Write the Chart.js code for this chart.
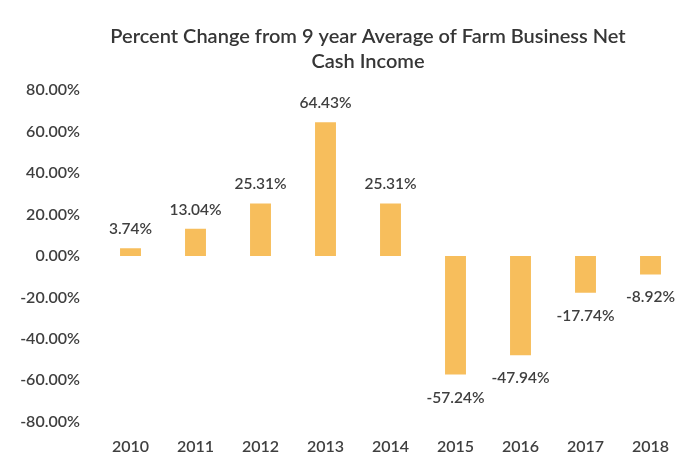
<!DOCTYPE html>
<html>
<head>
<meta charset="utf-8">
<script src="https://cdn.jsdelivr.net/npm/chart.js@4.4.1/dist/chart.umd.min.js"></script>
<style>
html,body{margin:0;padding:0;background:#fff;}
#wrap{width:691px;height:471px;position:relative;}
</style>
</head>
<body>
<div id="wrap"><canvas id="c"></canvas></div>
<script>
const categories = ['2010','2011','2012','2013','2014','2015','2016','2017','2018'];
const values = [3.74, 13.04, 25.31, 64.43, 25.31, -57.24, -47.94, -17.74, -8.92];
const yTicks = [80, 60, 40, 20, 0, -20, -40, -60, -80];
const titleLines = ['Percent Change from 9 year Average of Farm Business Net', 'Cash Income'];

const FONT = 'Lato, "Open Sans", sans-serif';
const TEXT = '#3f3f3f';

const titlePlugin = {
  id: 'customTitle',
  afterDraw(chart) {
    const ctx = chart.ctx;
    ctx.save();
    ctx.font = '600 20px ' + FONT;
    ctx.fillStyle = '#363636';
    ctx.textAlign = 'center';
    ctx.textBaseline = 'middle';
    ctx.fillText(titleLines[0], 368, 37);
    ctx.fillText(titleLines[1], 368, 62);
    ctx.restore();
  }
};

const labelPlugin = {
  id: 'valueLabels',
  afterDatasetsDraw(chart) {
    const ctx = chart.ctx;
    const meta = chart.getDatasetMeta(0);
    ctx.save();
    ctx.font = '600 15.5px ' + FONT;
    ctx.fillStyle = TEXT;
    ctx.textAlign = 'center';
    ctx.textBaseline = 'middle';
    meta.data.forEach((bar, i) => {
      const v = values[i];
      const y = v >= 0 ? bar.y - 19 : bar.y + 23;
      ctx.fillText(v.toFixed(2) + '%', bar.x, y);
    });
    ctx.restore();
  }
};

new Chart(document.getElementById('c'), {
  type: 'bar',
  data: {
    labels: categories,
    datasets: [{
      data: values,
      backgroundColor: '#F7BE5C',
      barPercentage: 0.46,
      categoryPercentage: 0.7
    }]
  },
  options: {
    responsive: true,
    maintainAspectRatio: false,
    animation: false,
    layout: { padding: { top: 90, left: 8, right: 8, bottom: 0 } },
    plugins: { legend: { display: false }, title: { display: false }, tooltip: { enabled: false } },
    scales: {
      x: {
        grid: { display: false, drawTicks: false },
        border: { display: false },
        ticks: { color: TEXT, font: { family: FONT, size: 16, weight: '600' }, padding: 15 }
      },
      y: {
        min: -80, max: 80,
        afterFit(scale) { scale.width = 90; },
        afterBuildTicks(scale) { scale.ticks = yTicks.map(v => ({ value: v })); },
        grid: { display: false, drawTicks: false },
        border: { display: false },
        ticks: {
          color: TEXT,
          font: { family: FONT, size: 16, weight: '600' },
          padding: 18,
          callback: v => v.toFixed(2) + '%'
        }
      }
    }
  },
  plugins: [titlePlugin, labelPlugin]
});
</script>
</body>
</html>
